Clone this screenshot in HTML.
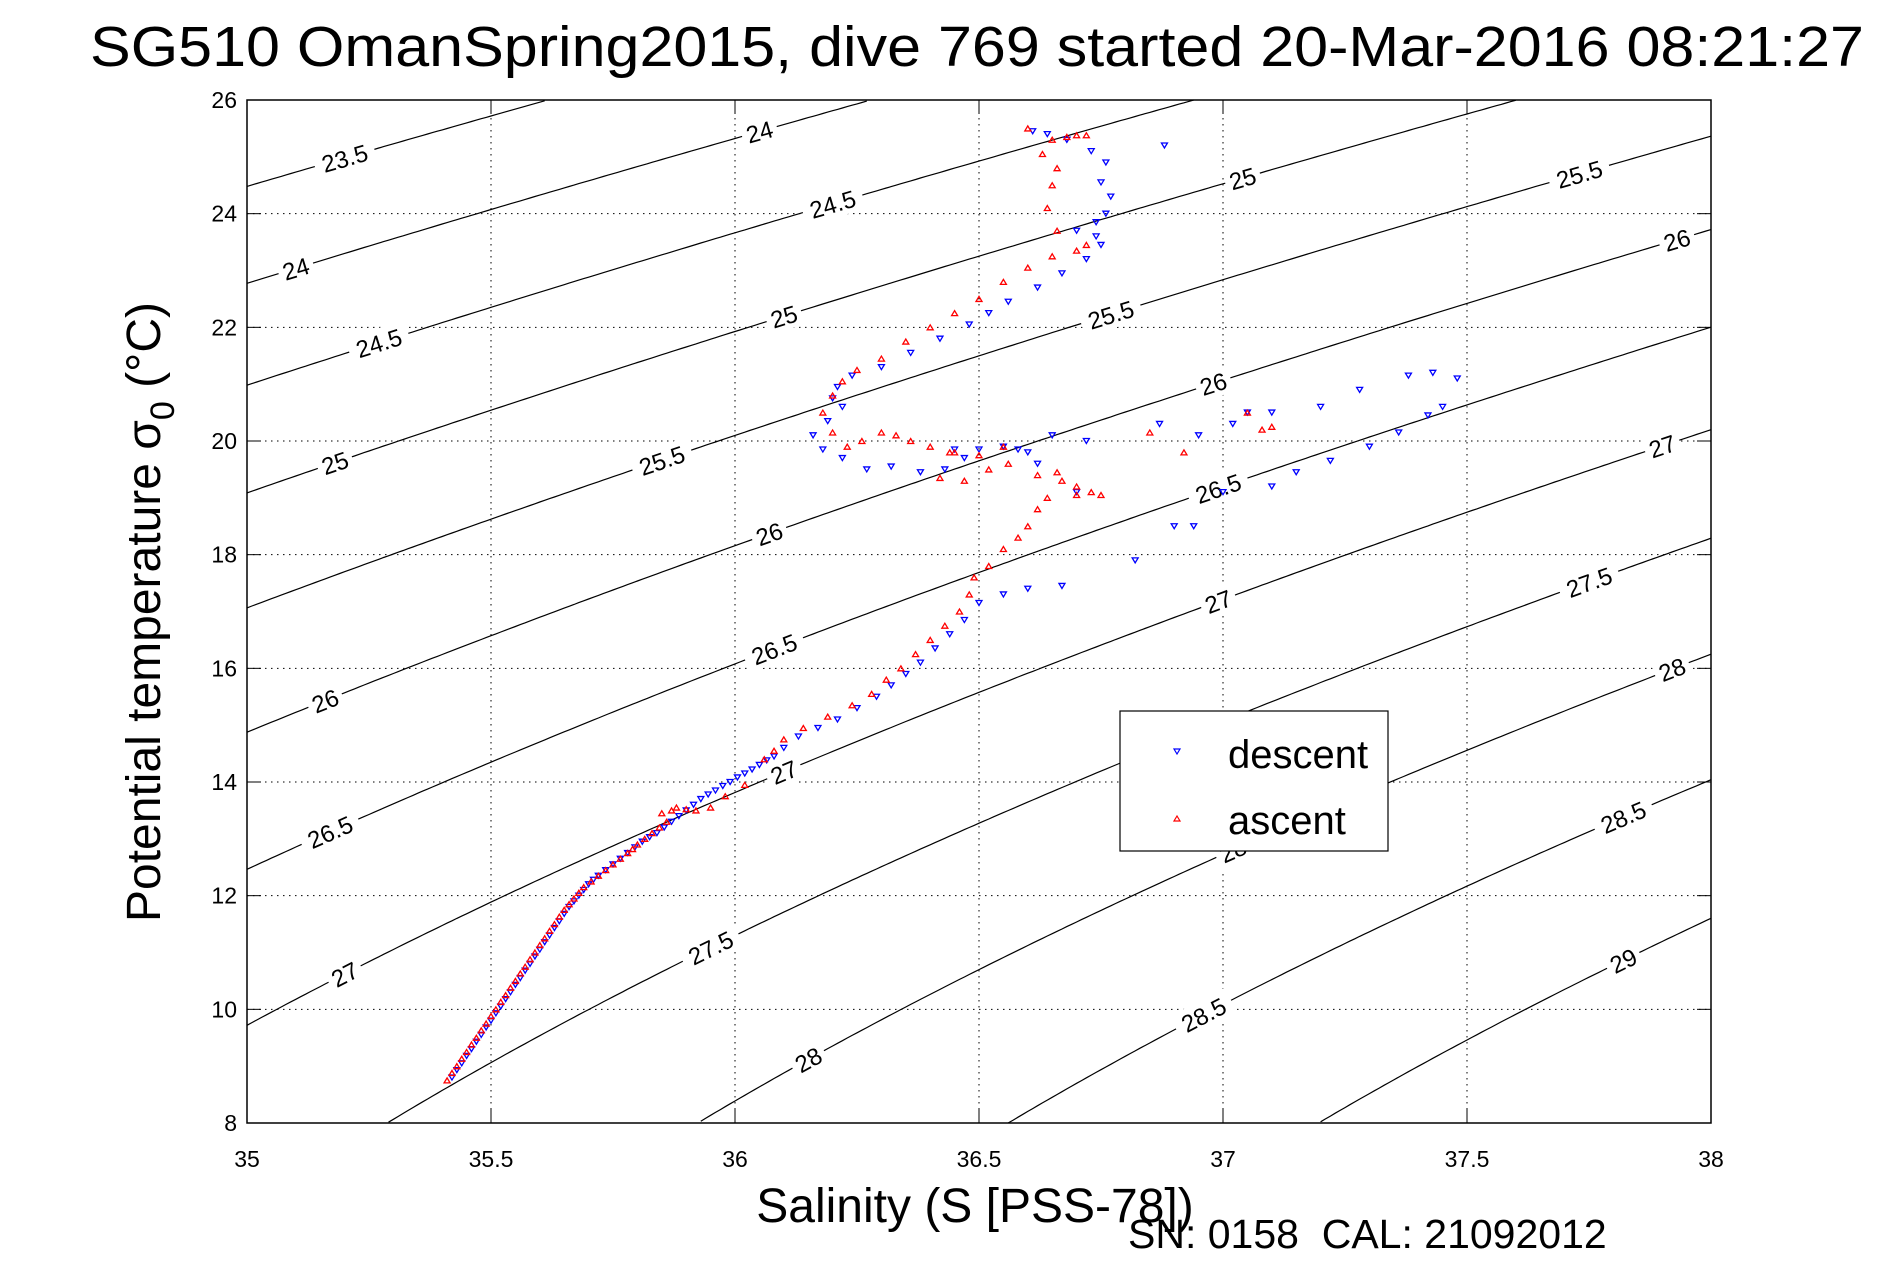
<!DOCTYPE html>
<html><head><meta charset="utf-8"><style>
html,body{margin:0;padding:0;background:#fff;}
svg{display:block;font-family:"Liberation Sans",sans-serif;}
</style></head><body>
<svg id="chart" width="1891" height="1262" viewBox="0 0 1891 1262" xmlns="http://www.w3.org/2000/svg">
<rect x="0" y="0" width="1891" height="1262" fill="#fff"/>
<text x="90" y="66" font-size="57" textLength="1774" lengthAdjust="spacingAndGlyphs">SG510 OmanSpring2015, dive 769 started 20-Mar-2016 08:21:27</text>
<g id="grid"></g>
<g id="contours"></g>
<g id="series"></g>
<rect x="247" y="100" width="1464" height="1023" fill="none" stroke="#000" stroke-width="1.5"/>
<g id="ticks" font-size="23"></g>
<text x="975" y="1222" font-size="48" text-anchor="middle">Salinity (S [PSS-78])</text>
<text transform="translate(160,612) rotate(-90)" font-size="48" text-anchor="middle">Potential temperature σ<tspan font-size="34" dy="14">0</tspan><tspan dy="-14"> (°C)</tspan></text>
<text x="1128" y="1248" font-size="41" xml:space="preserve">SN: 0158  CAL: 21092012</text>
<g>
<rect x="1120" y="711" width="268" height="140" fill="#fff" stroke="#000" stroke-width="1.2"/>
<path d="M1174,749 L1180,749 L1177,754 Z" fill="none" stroke="#00f" stroke-width="1.2"/>
<text x="1228" y="768" font-size="40">descent</text>
<path d="M1174,821 L1180,821 L1177,816 Z" fill="none" stroke="#f00" stroke-width="1.2"/>
<text x="1228" y="834" font-size="40">ascent</text>
</g>
</svg>
<script>
const xTicks=[35,35.5,36,36.5,37,37.5,38];
const yTicks=[8,10,12,14,16,18,20,22,24,26];
const sigmaLevels=[23.5,24,24.5,25,25.5,26,26.5,27,27.5,28,28.5,29];
const labelSalinities={"23.5":[35.2],"24":[35.1,36.05],"24.5":[35.27,36.2],"25":[35.18,36.1,37.04],"25.5":[35.85,36.77,37.73],"26":[35.16,36.07,36.98,37.93],"26.5":[35.17,36.08,36.99],"27":[35.2,36.1,36.99,37.9],"27.5":[35.95,37.75],"28":[36.15,37.02,37.92],"28.5":[36.96,37.82],"29":[37.82]};
const descentS=[35.42,35.43,35.44,35.45,35.46,35.47,35.48,35.49,35.5,35.51,35.52,35.53,35.54,35.55,35.56,35.57,35.58,35.59,35.6,35.61,35.62,35.63,35.64,35.65,35.66,35.67,35.68,35.69,35.7,35.71,35.72,35.735,35.75,35.765,35.78,35.795,35.81,35.825,35.84,35.855,35.87,35.885,35.9,35.915,35.93,35.945,35.96,35.975,35.99,36.005,36.02,36.035,36.05,36.065,36.08,36.1,36.13,36.17,36.21,36.25,36.29,36.32,36.35,36.38,36.41,36.44,36.47,36.5,36.55,36.6,36.67,36.82,36.9,36.94,37.0,37.1,37.15,37.22,37.3,37.36,37.42,37.45,37.48,37.43,37.38,37.28,37.2,37.1,37.05,37.02,36.95,36.87,36.72,36.65,36.6,36.55,36.5,36.47,36.43,36.38,36.32,36.27,36.22,36.18,36.16,36.19,36.22,36.2,36.21,36.24,36.3,36.36,36.42,36.48,36.52,36.56,36.62,36.67,36.72,36.75,36.74,36.7,36.74,36.76,36.77,36.75,36.76,36.73,36.68,36.64,36.61,36.68,36.88,36.45,36.58,36.62,36.7];
const descentT=[8.8,8.93,9.05,9.18,9.3,9.43,9.55,9.68,9.8,9.93,10.05,10.18,10.3,10.43,10.55,10.68,10.8,10.93,11.05,11.18,11.3,11.43,11.55,11.68,11.8,11.9,12.0,12.1,12.2,12.28,12.35,12.45,12.55,12.65,12.75,12.85,12.95,13.03,13.1,13.2,13.3,13.4,13.5,13.6,13.7,13.78,13.85,13.93,14.0,14.08,14.15,14.22,14.3,14.38,14.45,14.6,14.8,14.95,15.1,15.3,15.5,15.7,15.9,16.1,16.35,16.6,16.85,17.15,17.3,17.4,17.45,17.9,18.5,18.5,19.1,19.2,19.45,19.65,19.9,20.15,20.45,20.6,21.1,21.2,21.15,20.9,20.6,20.5,20.5,20.3,20.1,20.3,20.0,20.1,19.8,19.9,19.85,19.7,19.5,19.45,19.55,19.5,19.7,19.85,20.1,20.35,20.6,20.75,20.95,21.15,21.3,21.55,21.8,22.05,22.25,22.45,22.7,22.95,23.2,23.45,23.6,23.7,23.85,24.0,24.3,24.55,24.9,25.1,25.3,25.4,25.45,25.3,25.2,19.85,19.85,19.6,19.1];
const ascentS=[35.41,35.42,35.43,35.44,35.45,35.46,35.47,35.48,35.49,35.5,35.51,35.52,35.53,35.54,35.55,35.56,35.57,35.58,35.59,35.6,35.61,35.62,35.63,35.64,35.65,35.66,35.67,35.68,35.69,35.705,35.72,35.735,35.75,35.765,35.78,35.79,35.8,35.815,35.83,35.845,35.86,35.85,35.87,35.88,35.9,35.92,35.95,35.98,36.02,36.06,36.08,36.1,36.14,36.19,36.24,36.28,36.31,36.34,36.37,36.4,36.43,36.46,36.48,36.49,36.52,36.55,36.58,36.6,36.62,36.64,36.67,36.7,36.73,36.75,36.56,36.52,36.47,36.42,36.44,36.5,36.55,36.62,36.66,36.7,36.45,36.4,36.36,36.33,36.3,36.26,36.23,36.2,36.18,36.2,36.22,36.25,36.3,36.35,36.4,36.45,36.5,36.55,36.6,36.65,36.7,36.72,36.66,36.64,36.65,36.66,36.63,36.65,36.68,36.7,36.72,36.6,36.85,36.92,37.05,37.08,37.1];
const ascentT=[8.75,8.88,9.0,9.13,9.25,9.38,9.5,9.63,9.75,9.88,10.0,10.13,10.25,10.38,10.5,10.63,10.75,10.88,11.0,11.13,11.25,11.38,11.5,11.63,11.75,11.85,11.95,12.05,12.15,12.25,12.35,12.45,12.55,12.65,12.75,12.82,12.9,13.0,13.1,13.2,13.3,13.45,13.5,13.55,13.52,13.5,13.55,13.75,13.95,14.4,14.55,14.75,14.95,15.15,15.35,15.55,15.8,16.0,16.25,16.5,16.75,17.0,17.3,17.6,17.8,18.1,18.3,18.5,18.8,19.0,19.3,19.2,19.1,19.05,19.6,19.5,19.3,19.35,19.8,19.75,19.9,19.4,19.45,19.05,19.8,19.9,20.0,20.1,20.15,20.0,19.9,20.15,20.5,20.8,21.05,21.25,21.45,21.75,22.0,22.25,22.5,22.8,23.05,23.25,23.35,23.45,23.7,24.1,24.5,24.8,25.05,25.3,25.35,25.38,25.38,25.5,20.15,19.8,20.5,20.2,20.25];
const L=247,R=1711,T0=100,B=1123;
const X=s=>L+(s-35)/3*(R-L);
const Y=t=>B-(t-8)/18*(B-T0);
const NS="http://www.w3.org/2000/svg";
function mk(tag,attrs,parent){const e=document.createElementNS(NS,tag);for(const k in attrs)e.setAttribute(k,attrs[k]);parent.appendChild(e);return e;}
function sigma(S,T){const rw=999.842594+6.793952e-2*T-9.095290e-3*T*T+1.001685e-4*T**3-1.120083e-6*T**4+6.536332e-9*T**5;
return rw+S*(0.824493-4.0899e-3*T+7.6438e-5*T*T-8.2467e-7*T**3+5.3875e-9*T**4)+S**1.5*(-5.72466e-3+1.0227e-4*T-1.6546e-6*T*T)+4.8314e-4*S*S-1000;}
function solveT(S,lev){let a=-2,b=40;if((sigma(S,a)-lev)*(sigma(S,b)-lev)>0)return null;for(let i=0;i<50;i++){const m=(a+b)/2;if(sigma(S,m)>lev)a=m;else b=m;}return (a+b)/2;}
const grid=document.getElementById('grid'),ticks=document.getElementById('ticks'),cont=document.getElementById('contours'),ser=document.getElementById('series');
xTicks.forEach(v=>{const x=X(v);
 if(v>35&&v<38){const g=mk('line',{x1:x,y1:T0,x2:x,y2:B,stroke:'#000','stroke-width':1,'stroke-dasharray':'1.5,4.5'},grid);}
 const tk=mk('line',{x1:x,y1:B,x2:x,y2:B-14,stroke:'#000'},ticks);
 const tk2=mk('line',{x1:x,y1:T0,x2:x,y2:T0+14,stroke:'#000'},ticks);
 const t=mk('text',{x:x,y:B+44,'text-anchor':'middle'},ticks);t.textContent=String(v);});
yTicks.forEach(v=>{const y=Y(v);
 if(v>8&&v<26){const g=mk('line',{x1:L,y1:y,x2:R,y2:y,stroke:'#000','stroke-width':1,'stroke-dasharray':'1.5,4.5'},grid);}
 const tk=mk('line',{x1:L,y1:y,x2:L+14,y2:y,stroke:'#000'},ticks);
 const tk2=mk('line',{x1:R,y1:y,x2:R-14,y2:y,stroke:'#000'},ticks);
 const t=mk('text',{x:L-10,y:y+8,'text-anchor':'end'},ticks);t.textContent=String(v);});
sigmaLevels.forEach(lev=>{let pts=[];
 for(let i=0;i<=300;i++){const S=35+3*i/300;const t=solveT(S,lev);if(t===null)continue;
  if(t<8||t>26){if(pts.length&&t>26)break;continue;}pts.push(X(S).toFixed(1)+','+Y(t).toFixed(1));}
 if(pts.length>1){const p=mk('polyline',{points:pts.join(' '),fill:'none',stroke:'#000','stroke-width':1.2},cont);}
 (labelSalinities[String(lev)]||[]).forEach(S=>{const t=solveT(S,lev);if(t===null||t<8||t>26)return;
  const t2=solveT(S+0.02,lev);const ang=Math.atan2(Y(t2)-Y(t),X(S+0.02)-X(S))*180/Math.PI;
  const g=mk('g',{transform:`translate(${X(S)},${Y(t)}) rotate(${ang})`},cont);
  const w=String(lev).length*13+10;
  const r=mk('rect',{x:-w/2,y:-14,width:w,height:28,fill:'#fff'},g);
  const tx=mk('text',{x:0,y:9,'text-anchor':'middle','font-size':24},g);tx.textContent=String(lev);});
});
descentS.forEach((s,i)=>{const x=X(s),y=Y(descentT[i]);
 const m=mk('path',{d:`M${x-3},${y-2.5} L${x+3},${y-2.5} L${x},${y+2.5} Z`,fill:'none',stroke:'#00f','stroke-width':1.3},ser);
 });
ascentS.forEach((s,i)=>{const x=X(s),y=Y(ascentT[i]);
 const m=mk('path',{d:`M${x-3},${y+2.5} L${x+3},${y+2.5} L${x},${y-2.5} Z`,fill:'none',stroke:'#f00','stroke-width':1.3},ser);
 });
</script>
</body></html>
